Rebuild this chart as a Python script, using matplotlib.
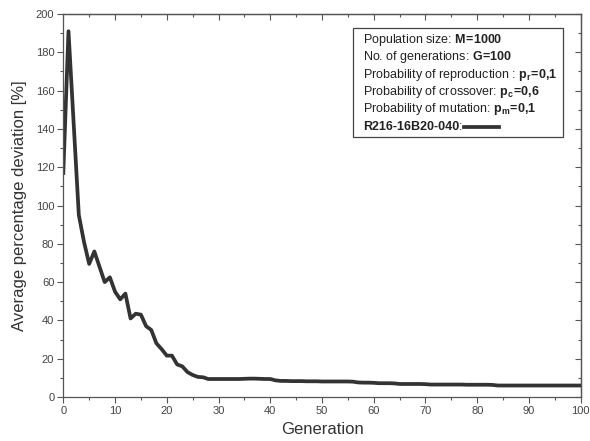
import numpy as np
import matplotlib
matplotlib.use("Agg")
import matplotlib.pyplot as plt
from matplotlib.patches import Rectangle
from matplotlib.ticker import MultipleLocator

plt.rcParams['font.family'] = ['Liberation Sans', 'DejaVu Sans']
plt.rcParams['mathtext.fontset'] = 'custom'
plt.rcParams['mathtext.rm'] = 'Liberation Sans'
plt.rcParams['mathtext.bf'] = 'Liberation Sans:bold'
plt.rcParams['mathtext.it'] = 'Liberation Sans:italic'

# average percentage deviation per generation
generation = np.arange(0, 101)
deviation = np.array([
    117, 191, 143, 95, 81, 69.5, 76, 68, 60, 62.5,      # 0-9
    55, 51, 54, 41, 43.5, 43, 37, 35, 28, 25,           # 10-19
    21.6, 21.6, 17, 16, 13, 11.5, 10.5, 10.3, 9.4, 9.4, # 20-29
    9.4, 9.4, 9.4, 9.4, 9.4, 9.5, 9.6, 9.6, 9.5, 9.4,   # 30-39
    9.4, 8.7, 8.4, 8.4, 8.3, 8.3, 8.3, 8.2, 8.2, 8.2,   # 40-49
    8.1, 8.1, 8.1, 8.1, 8.1, 8.1, 8.0, 7.6, 7.5, 7.5,   # 50-59
    7.4, 7.2, 7.2, 7.2, 7.1, 6.8, 6.8, 6.8, 6.8, 6.8,   # 60-69
    6.7, 6.5, 6.5, 6.5, 6.5, 6.5, 6.5, 6.5, 6.4, 6.4,   # 70-79
    6.4, 6.4, 6.4, 6.3, 6.0, 6.0, 6.0, 6.0, 6.0, 6.0,   # 80-89
    6.0, 6.0, 6.0, 6.0, 6.0, 6.0, 6.0, 6.0, 6.0, 6.0,   # 90-99
    6.0])                                               # 100

info_lines = [
    r'Population size: $\mathbf{M\!=\!1000}$',
    r'No. of generations: $\mathbf{G\!=\!100}$',
    r'Probability of reproduction : $\mathbf{p_r\!=\!0{,}1}$',
    r'Probability of crossover: $\mathbf{p_c\!=\!0{,}6}$',
    r'Probability of mutation: $\mathbf{p_m\!=\!0{,}1}$',
]
series_name = 'R216-16B20-040'

line_col = '#333333'
axis_col = '#555555'

fig = plt.figure(figsize=(5.9, 4.41), dpi=100)
ax = fig.add_axes([63.3/590, 1-397/441, (580.7-63.3)/590, (397-14)/441])

ax.plot(generation, deviation, color=line_col, lw=2.7, solid_joinstyle='round')

ax.set_xlim(0, 100)
ax.set_ylim(0, 200)
ax.xaxis.set_major_locator(MultipleLocator(10))
ax.xaxis.set_minor_locator(MultipleLocator(5))
ax.yaxis.set_major_locator(MultipleLocator(20))
ax.yaxis.set_minor_locator(MultipleLocator(10))

for s in ax.spines.values():
    s.set_color(axis_col)
    s.set_linewidth(0.9)

ax.tick_params(which='both', direction='out', colors=axis_col, labelcolor='#444444',
               labelsize=8, width=0.8)
ax.tick_params(which='major', length=4)
ax.tick_params(which='minor', length=2.5)
ax.tick_params(axis='x', pad=2.5)
ax.tick_params(axis='y', pad=2.5)

# inward ticks on the top and right edges
top = ax.secondary_xaxis('top')
top.set_xticks(np.arange(0, 101, 10))
top.xaxis.set_minor_locator(MultipleLocator(5))
top.tick_params(which='both', direction='in', colors=axis_col, labeltop=False, width=0.8)
top.tick_params(which='major', length=4)
top.tick_params(which='minor', length=2.5)
right = ax.secondary_yaxis('right')
right.set_yticks(np.arange(0, 201, 20))
right.yaxis.set_minor_locator(MultipleLocator(10))
right.tick_params(which='both', direction='in', colors=axis_col, labelright=False, width=0.8)
right.tick_params(which='major', length=4)
right.tick_params(which='minor', length=2.5)
for sec in (top, right):
    for s in sec.spines.values():
        s.set_color(axis_col)
        s.set_linewidth(0.9)

ax.set_xlabel('Generation', fontsize=12, color='#333333', labelpad=4)
ax.set_ylabel('Average percentage deviation [%]', fontsize=12, color='#333333', labelpad=6)

# info box in pixel coordinates of the figure
W, H = 590, 441
box = Rectangle((353.3/W, 1-136.7/H), (562.7-353.3)/W, (136.7-28.3)/H,
                transform=fig.transFigure, facecolor='white', edgecolor='#444444', lw=0.9)
fig.patches.append(box)
y0, dy = 40.0, 17.3
for i, txt in enumerate(info_lines):
    fig.text(362.7/W, 1-(y0+i*dy)/H, txt, fontsize=9, color='#222222', va='center', ha='left')
name_y = 1-(y0+5*dy)/H
t = fig.text(362.7/W, name_y, series_name, fontsize=9, fontweight='bold', color='#222222',
             va='center', ha='left')
fig.canvas.draw()
bb = t.get_window_extent()
colon = fig.text(bb.x1/W, name_y, ':', fontsize=9, color='#222222', va='center', ha='left')
fig.canvas.draw()
cb = colon.get_window_extent()
x_start = cb.x1/W + 2/W
fig.add_artist(plt.Line2D([x_start, x_start+35/W], [name_y, name_y],
                          transform=fig.transFigure, color=line_col, lw=2.7))

fig.savefig('out.png', dpi=100)
